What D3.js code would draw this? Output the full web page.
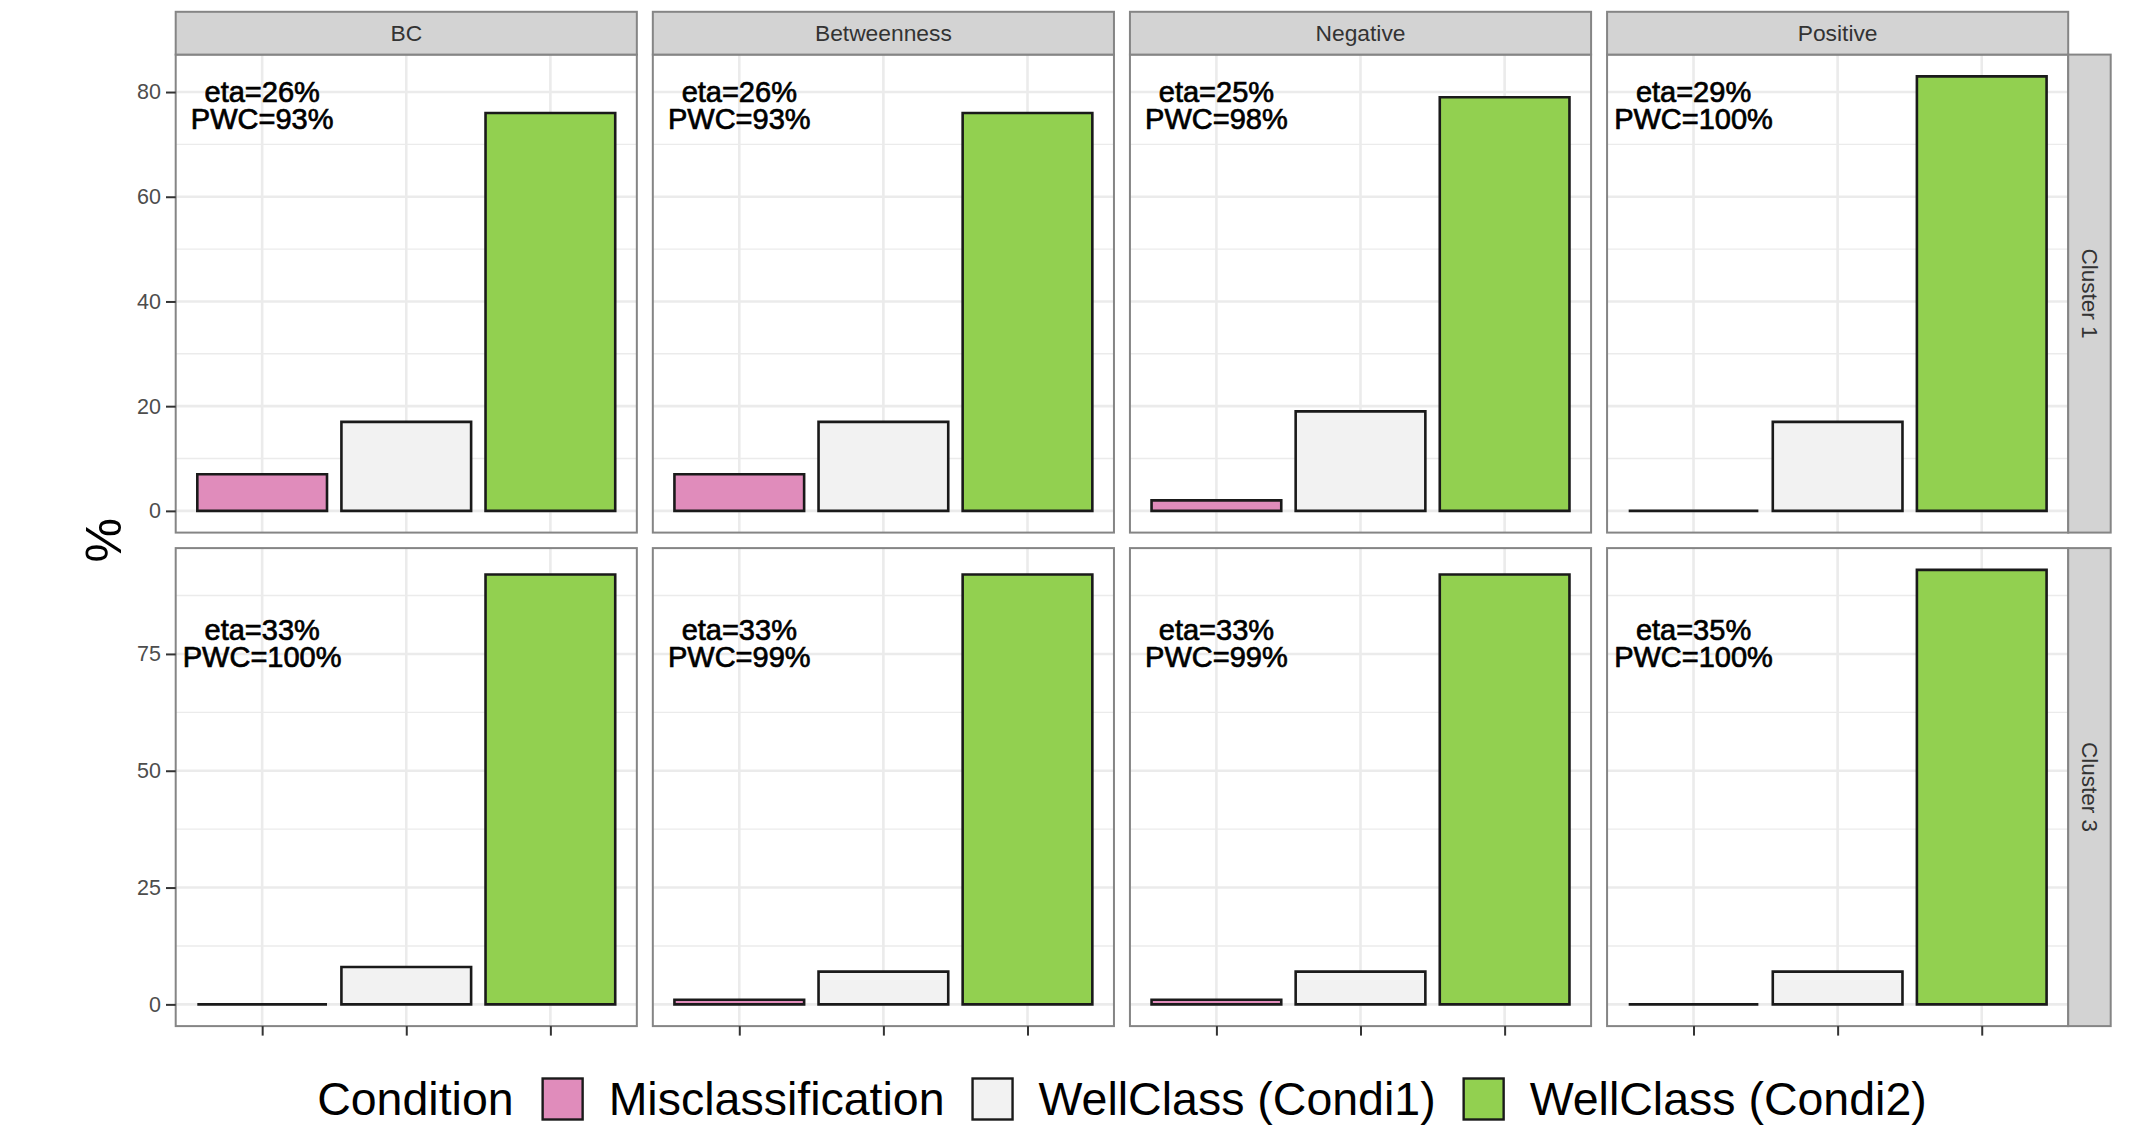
<!DOCTYPE html>
<html>
<head>
<meta charset="utf-8">
<script src="https://cdn.jsdelivr.net/npm/d3@7"></script>
<style>
  html, body { margin: 0; padding: 0; background: #ffffff; }
  svg { display: block; font-family: "Liberation Sans", Arial, Helvetica, sans-serif; }
</style>
</head>
<body>
<svg id="chart" width="2152" height="1131"></svg>
<script>
// Facet columns (measures) and facet rows (clusters)
const facets = ["BC", "Betweenness", "Negative", "Positive"];
const clusters = ["Cluster 1", "Cluster 3"];

// Bar categories and fills
const conditions = ["Misclassification", "WellClass (Condi1)", "WellClass (Condi2)"];
const conditionColors = ["#E08CBB", "#F2F2F2", "#92D050"];

// Percentages per cluster row, one value per facet column
const misclassification = [[7, 7, 2, 0], [0, 1, 1, 0]];
const wellClassCondi1 = [[17, 17, 19, 17], [8, 7, 7, 7]];
const wellClassCondi2 = [[76, 76, 79, 83], [92, 92, 92, 93]];

// Effect size and pairwise comparison annotations
const etaValues = [[26, 26, 25, 29], [33, 33, 33, 35]];
const pwcValues = [[93, 93, 98, 100], [100, 99, 99, 100]];
const annotationY = 80;

// Y tick labels per row (major) and minor grid positions
const yTicks = [[0, 20, 40, 60, 80], [0, 25, 50, 75]];
const yMinor = [[10, 30, 50, 70], [12.5, 37.5, 62.5, 87.5]];

const svg = d3.select("#chart");

const plotLeft = 175.7, plotRight = 2068.2;
const stripTop = 11.8, stripH = 42.8;
const rowTop = [54.6, 548.1], rowH = 478;
const rightStripW = 42.5;
const borderColor = "#858585";
const gridColor = "#EBEBEB";

const colScale = d3.scaleBand().domain(facets).range([plotLeft, plotRight]).paddingInner(0.0335);
const panelW = colScale.bandwidth();

const seriesByCondition = [misclassification, wellClassCondi1, wellClassCondi2];

clusters.forEach((cluster, r) => {
  const values = seriesByCondition.map(s => s[r]);
  const maxV = d3.max(values.flat());
  const pad = maxV * 0.05;
  const y = d3.scaleLinear().domain([-pad, maxV + pad]).range([rowTop[r] + rowH, rowTop[r]]);

  facets.forEach((facet, c) => {
    const x0 = colScale(facet);
    // discrete x positions with 0.6 step of expansion on both sides
    const xPos = d3.scalePoint().domain(conditions).range([x0, x0 + panelW]).padding(0.6);
    const step = xPos.step();
    const barW = step * 0.9;

    const g = svg.append("g");

    // panel background
    g.append("rect").attr("x", x0).attr("y", rowTop[r]).attr("width", panelW).attr("height", rowH).attr("fill", "#fff");

    // minor grid
    g.selectAll(".minor").data(yMinor[r]).join("line")
      .attr("x1", x0).attr("x2", x0 + panelW)
      .attr("y1", d => y(d)).attr("y2", d => y(d))
      .attr("stroke", gridColor).attr("stroke-width", 1.4);
    // major grid
    g.selectAll(".major").data(yTicks[r]).join("line")
      .attr("x1", x0).attr("x2", x0 + panelW)
      .attr("y1", d => y(d)).attr("y2", d => y(d))
      .attr("stroke", gridColor).attr("stroke-width", 2.6);
    g.selectAll(".vmajor").data(conditions).join("line")
      .attr("x1", d => xPos(d)).attr("x2", d => xPos(d))
      .attr("y1", rowTop[r]).attr("y2", rowTop[r] + rowH)
      .attr("stroke", gridColor).attr("stroke-width", 2.6);

    // bars (paths so zero-height bars still show their outline)
    g.selectAll(".bar").data(conditions.map((cond, i) => ({ cond, i, v: values[i][c] }))).join("path")
      .attr("d", d => {
        const bx = xPos(d.cond) - barW / 2;
        const top = y(d.v), base = y(0);
        return `M${bx},${base}L${bx + barW},${base}L${bx + barW},${top}L${bx},${top}Z`;
      })
      .attr("fill", d => conditionColors[d.i])
      .attr("stroke", "#1a1a1a").attr("stroke-width", 2.6).attr("stroke-linejoin", "miter");

    // annotation
    const ax = xPos(conditions[0]);
    const ay = y(annotationY);
    const txt = g.append("text").attr("x", ax).attr("text-anchor", "middle")
      .attr("font-size", 29).attr("fill", "#000").attr("stroke", "#000").attr("stroke-width", 0.7);
    txt.append("tspan").attr("x", ax).attr("y", ay + 9.6).text(`eta=${etaValues[r][c]}%`);
    txt.append("tspan").attr("x", ax).attr("y", ay + 36.8).text(`PWC=${pwcValues[r][c]}%`);

    // panel border
    g.append("rect").attr("x", x0).attr("y", rowTop[r]).attr("width", panelW).attr("height", rowH)
      .attr("fill", "none").attr("stroke", borderColor).attr("stroke-width", 2);

    // left axis on first column
    if (c === 0) {
      const axis = d3.axisLeft(y).tickValues(yTicks[r]).tickSize(9.7).tickPadding(5).tickFormat(d3.format("d"));
      const ag = svg.append("g").attr("transform", `translate(${x0},0)`).call(axis);
      ag.select(".domain").remove();
      ag.selectAll(".tick line").attr("stroke", "#333").attr("stroke-width", 2);
      ag.selectAll(".tick text").attr("fill", "#4D4D4D").attr("font-size", 21.5)
        .attr("font-family", "Liberation Sans, Arial, sans-serif");
    }

    // bottom ticks on last row
    if (r === clusters.length - 1) {
      const axisB = d3.axisBottom(xPos).tickSize(9.5).tickFormat("");
      const bg = svg.append("g").attr("transform", `translate(0,${rowTop[r] + rowH})`).call(axisB);
      bg.select(".domain").remove();
      bg.selectAll(".tick line").attr("stroke", "#333").attr("stroke-width", 2);
    }

    // column strips on top row
    if (r === 0) {
      svg.append("rect").attr("x", x0).attr("y", stripTop).attr("width", panelW).attr("height", stripH)
        .attr("fill", "#D3D3D3").attr("stroke", borderColor).attr("stroke-width", 2);
      svg.append("text").attr("x", x0 + panelW / 2).attr("y", stripTop + stripH / 2)
        .attr("dy", "0.35em").attr("text-anchor", "middle").attr("font-size", 22.8).attr("fill", "#333")
        .text(facet);
    }
  });

  // row strip on right
  const sx = plotRight;
  svg.append("rect").attr("x", sx).attr("y", rowTop[r]).attr("width", rightStripW).attr("height", rowH)
    .attr("fill", "#D3D3D3").attr("stroke", borderColor).attr("stroke-width", 2);
  const cy = rowTop[r] + rowH / 2, cx = sx + rightStripW / 2;
  svg.append("text").attr("transform", `translate(${cx},${cy}) rotate(90)`)
    .attr("dy", "0.35em").attr("text-anchor", "middle").attr("font-size", 22.5).attr("fill", "#333")
    .text(cluster);
});

// y axis title
svg.append("text").attr("transform", `translate(103,${(rowTop[0] + rowTop[1] + rowH) / 2}) rotate(-90)`)
  .attr("dy", "0.35em").attr("text-anchor", "middle").attr("font-size", 50).attr("fill", "#000").text("%");

// legend
const legendY = 1099, keyW = 40, keyH = 41;
const lg = svg.append("g");
let cursor = 0;
const title = lg.append("text").attr("x", 0).attr("y", legendY).attr("dy", "0.35em")
  .attr("font-size", 46.5).attr("fill", "#000").text("Condition");
cursor += title.node().getComputedTextLength() + 29;
conditions.forEach((cond, i) => {
  lg.append("rect").attr("x", cursor).attr("y", legendY - keyH / 2).attr("width", keyW).attr("height", keyH)
    .attr("fill", conditionColors[i]).attr("stroke", "#1a1a1a").attr("stroke-width", 2.4);
  cursor += keyW + 26;
  const t = lg.append("text").attr("x", cursor).attr("y", legendY).attr("dy", "0.35em")
    .attr("font-size", 46.5).attr("fill", "#000").text(cond);
  cursor += t.node().getComputedTextLength() + (i < conditions.length - 1 ? 28 : 0);
});
const legendCenter = (plotLeft + plotRight) / 2;
lg.attr("transform", `translate(${legendCenter - cursor / 2},0)`);
</script>
</body>
</html>
